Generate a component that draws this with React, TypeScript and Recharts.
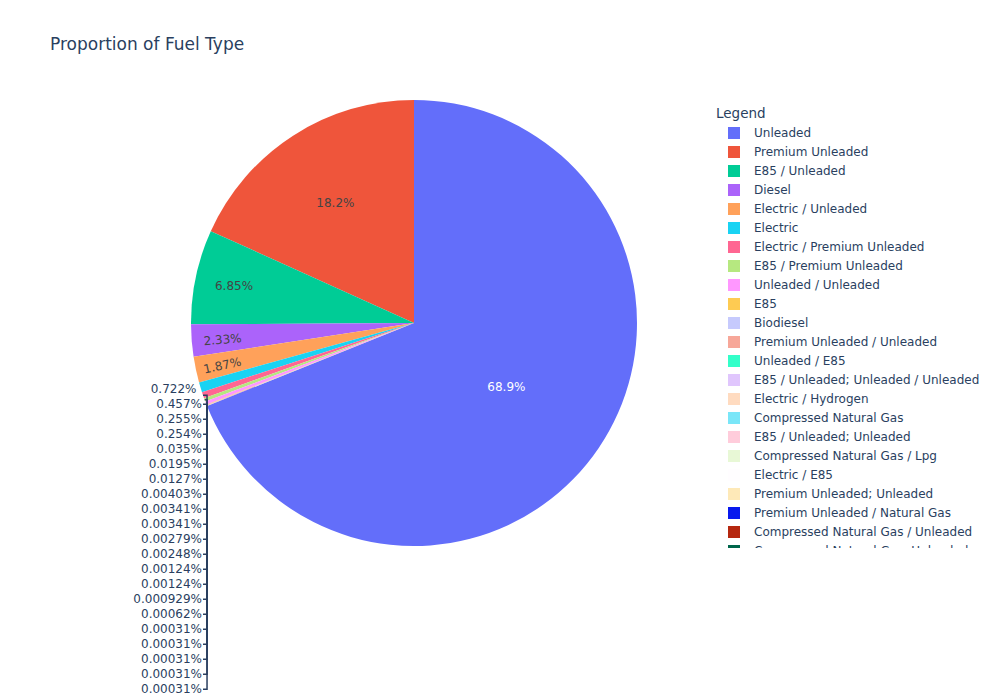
import { PieChart, Pie, Cell, Legend } from "recharts";

const fuelTypes = [
  "Unleaded",
  "Premium Unleaded",
  "E85 / Unleaded",
  "Diesel",
  "Electric / Unleaded",
  "Electric",
  "Electric / Premium Unleaded",
  "E85 / Premium Unleaded",
  "Unleaded / Unleaded",
  "E85",
  "Biodiesel",
  "Premium Unleaded / Unleaded",
  "Unleaded / E85",
  "E85 / Unleaded; Unleaded / Unleaded",
  "Electric / Hydrogen",
  "Compressed Natural Gas",
  "E85 / Unleaded; Unleaded",
  "Compressed Natural Gas / Lpg",
  "Electric / E85",
  "Premium Unleaded; Unleaded",
  "Premium Unleaded / Natural Gas",
  "Compressed Natural Gas / Unleaded",
  "Compressed Natural Gas; Unleaded",
  "Diesel / Electric",
  "Hydrogen",
  "Unleaded / Natural Gas",
];

// vehicle counts per fuel type (read back from the percentages)
const vehicleCounts = [
  222500, 58900, 22110, 7520, 6035, 2330, 1475, 823, 820, 113, 63, 41, 13, 11,
  11, 9, 8, 4, 4, 3, 2, 1, 1, 1, 1, 1,
];

const sliceColors = [
  "#636EFA", "#EF553B", "#00CC96", "#AB63FA", "#FFA15A",
  "#19D3F3", "#FF6692", "#B6E880", "#FF97FF", "#FECB52",
  "#C6CAFD", "#F7A799", "#33FFC9", "#E0C6FD", "#FFDBC0",
  "#7AE6F8", "#FFCCDB", "#E8F8D6", "#FFFDFF", "#FEE9B8",
  "#0819EE", "#B5270F", "#00664B", "#7608EF", "#F36800", "#08889E",
];

const data = fuelTypes.map((name, i) => ({ name, count: vehicleCounts[i] }));

const FONT = '"DejaVu Sans", Verdana, sans-serif';
const TEXT = "#2a3f5f";
const CX = 414;
const CY = 323;
const R = 223;
const INSIDE = 5; // labels drawn inside the slice
const RAD = Math.PI / 180;

const total = vehicleCounts.reduce((a, b) => a + b, 0);
// first slice ends at 12 o'clock, slices run counter-clockwise after it
const startAngle = 90 - (360 * vehicleCounts[0]) / total;

const midAngleOf = (i: number) => {
  const before = vehicleCounts.slice(0, i).reduce((a, b) => a + b, 0);
  return startAngle + (360 * (before + vehicleCounts[i] / 2)) / total;
};

const formatPercent = (p: number) => `${Number((p * 100).toPrecision(3))}%`;

const firstOutside = midAngleOf(INSIDE);
const stackTop = CY - R * Math.sin(firstOutside * RAD) + 2;
const lastAngle = midAngleOf(vehicleCounts.length - 1);
const lineX = CX + R * Math.cos(lastAngle * RAD);

const renderLabel = (props: any) => {
  const { midAngle, percent, index } = props;
  const text = formatPercent(percent);
  const cos = Math.cos(midAngle * RAD);
  const sin = Math.sin(midAngle * RAD);

  if (index < INSIDE) {
    let r = R - 27;
    if (percent > 0.5) r = R * 0.5;
    else if (percent > 0.1) r = R * 0.65;
    else if (percent > 0.05) r = R - 39;
    else if (percent > 0.02) r = R - 31;
    const x = CX + r * cos;
    const y = CY - r * sin + 1.5;
    const rot = percent < 0.03 ? -(midAngle - 180) : 0;
    return (
      <text
        x={x}
        y={y}
        textAnchor="middle"
        dominantBaseline="central"
        transform={`rotate(${rot} ${x} ${y})`}
        fill={index === 0 ? "#ffffff" : "#444444"}
        fontSize={12}
        fontFamily={FONT}
      >
        {text}
      </text>
    );
  }

  const ox = CX + R * cos;
  const oy = CY - R * sin;
  if (index === INSIDE) {
    return (
      <text
        x={ox - 4}
        y={stackTop}
        textAnchor="end"
        dominantBaseline="central"
        fill={TEXT}
        fontSize={12}
        fontFamily={FONT}
      >
        {text}
      </text>
    );
  }
  const ly = stackTop + 15 * (index - INSIDE);
  return (
    <g>
      <path
        d={`M${ox},${oy}L${lineX},${oy}L${lineX},${ly}L${lineX - 4},${ly}`}
        stroke={TEXT}
        strokeWidth={1.5}
        fill="none"
      />
      <text
        x={lineX - 5}
        y={ly}
        textAnchor="end"
        dominantBaseline="central"
        fill={TEXT}
        fontSize={12}
        fontFamily={FONT}
      >
        {text}
      </text>
    </g>
  );
};

// legend keeps the data order (largest share first)
const renderLegend = () => (
  <div style={{ fontFamily: FONT, color: TEXT }}>
    <div style={{ height: 20, lineHeight: "19px", fontSize: 13.5, paddingLeft: 6 }}>
      Legend
    </div>
    {fuelTypes.map((name, i) => (
      <div
        key={name}
        style={{ height: 19, display: "flex", alignItems: "center", fontSize: 12 }}
      >
        <span
          style={{
            display: "inline-block",
            width: 12,
            height: 12,
            marginLeft: 18,
            marginRight: 14,
            background: sliceColors[i],
          }}
        />
        <span style={{ whiteSpace: "nowrap" }}>{name}</span>
      </div>
    ))}
  </div>
);

export default function App() {
  return (
    <div
      style={{
        position: "absolute",
        left: 0,
        top: 0,
        width: 1000,
        height: 700,
        background: "#ffffff",
        fontFamily: FONT,
      }}
    >
      <div
        style={{
          position: "absolute",
          left: 50,
          top: 34,
          fontSize: 17,
          lineHeight: "20px",
          color: TEXT,
          zIndex: 2,
        }}
      >
        Proportion of Fuel Type
      </div>
      <PieChart width={1000} height={700} margin={{ top: 0, right: 0, bottom: 0, left: 0 }}>
        <Pie
          data={data}
          dataKey="count"
          nameKey="name"
          cx={CX}
          cy={CY}
          outerRadius={R}
          startAngle={startAngle}
          endAngle={startAngle + 360}
          stroke="none"
          label={renderLabel}
          labelLine={false}
          isAnimationActive={false}
        >
          {data.map((d, i) => (
            <Cell key={d.name} fill={sliceColors[i]} />
          ))}
        </Pie>
        <Legend
          layout="vertical"
          content={renderLegend}
          wrapperStyle={{
            position: "absolute",
            left: 710,
            top: 103.5,
            width: 290,
            height: 444.5,
            overflow: "hidden",
          }}
        />
      </PieChart>
    </div>
  );
}
